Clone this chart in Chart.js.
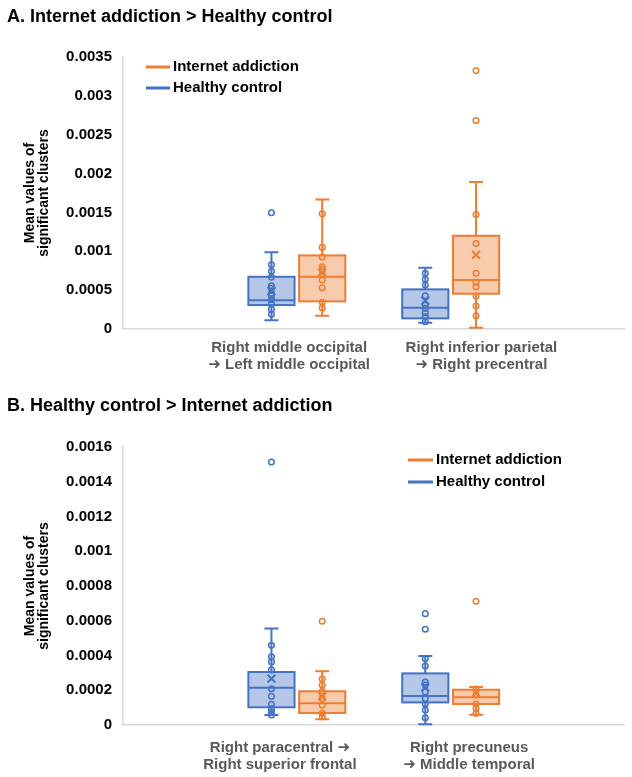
<!DOCTYPE html>
<html>
<head>
<meta charset="utf-8">
<script src="https://cdn.jsdelivr.net/npm/chart.js@4"></script>
<style>
body { margin: 0; background: #fff; }
#wrap { position: relative; width: 632px; height: 777px; }
canvas { position: absolute; left: 0; }
</style>
</head>
<body>
<div id="wrap">
  <canvas id="chartA" width="632" height="390" style="top:0"></canvas>
  <canvas id="chartB" width="632" height="387" style="top:390px"></canvas>
</div>
<script>
// ---- data: panel A (Internet addiction > Healthy control) ----
const labelsA = [['Right middle occipital', '➜ Left middle occipital'], ['Right inferior parietal', '➜ Right precentral']];
const yTicksA = [0, 0.0005, 0.001, 0.0015, 0.002, 0.0025, 0.003, 0.0035];
// box = [min, q1, median, q3, max]
const hcBoxA = [[0.000112, 0.000308, 0.000369, 0.000672, 0.000986], [0.000081, 0.000137, 0.000274, 0.00051, 0.000788]];
const iaBoxA = [[0.000171, 0.000356, 0.000672, 0.000947, 0.001667], [0.000017, 0.000454, 0.00063, 0.0012, 0.00189]];
const hcMeanA = [0.000488, 0.000364];
const iaMeanA = [0.000724, 0.000955];
const hcPointsA = [
  [0.001495, 0.000826, 0.000742, 0.000668, 0.000557, 0.000523, 0.000459, 0.000428, 0.000377, 0.000321, 0.000253, 0.000189],
  [0.000716, 0.000639, 0.000566, 0.000428, 0.000308, 0.000266, 0.00021, 0.000158, 0.000094]
];
const iaPointsA = [
  [0.001482, 0.00105, 0.000925, 0.000801, 0.000767, 0.000698, 0.00063, 0.000531, 0.000343, 0.00027],
  [0.003325, 0.002683, 0.001474, 0.001101, 0.000716, 0.0006, 0.000544, 0.000424, 0.000296, 0.000171]
];

// ---- data: panel B (Healthy control > Internet addiction) ----
const labelsB = [['Right paracentral ➜', 'Right superior frontal'], ['Right precuneus', '➜ Middle temporal']];
const yTicksB = [0, 0.0002, 0.0004, 0.0006, 0.0008, 0.001, 0.0012, 0.0014, 0.0016];
const hcBoxB = [[0.0000576, 0.000102, 0.000215, 0.000305, 0.000556], [0.000004, 0.00013, 0.000167, 0.000297, 0.000397]];
const iaBoxB = [[0.000033, 0.000069, 0.000125, 0.000194, 0.000309], [0.000059, 0.000121, 0.000159, 0.000203, 0.000219]];
const hcMeanB = [0.000267, 0.000217];
const iaMeanB = [0.000163, 0.000184];
const hcPointsB = [
  [0.001514, 0.000459, 0.000393, 0.000363, 0.000317, 0.000209, 0.000165, 0.000119, 0.000094, 0.000075, 0.0000576],
  [0.000641, 0.000551, 0.000382, 0.00034, 0.000247, 0.00023, 0.00019, 0.000152, 0.000121, 0.000086, 0.000042]
];
const iaPointsB = [
  [0.000597, 0.000265, 0.00023, 0.000194, 0.000153, 0.000113, 0.000067, 0.000048],
  [0.000712, 0.000207, 0.000173, 0.000121, 0.000096, 0.000067]
];

const seriesNames = ['Internet addiction', 'Healthy control'];

// ---- styles ----
const FONT = "'Liberation Sans', Arial, 'DejaVu Sans', sans-serif";
const HC = { line: '#4472C4', fill: '#B4C7E7', offset: -0.165 };
const IA = { line: '#ED7D31', fill: '#F8CBAD', offset: 0.165 };
const BOX_HALF = 0.15;   // in x units
const CAP_HALF = 7;      // px

const toXY = (vals, off) => vals.map((v, i) => ({ x: i + 1 + off, y: v }));
const toPoints = (groups, off) => groups.flatMap((g, i) => g.map(v => ({ x: i + 1 + off, y: v })));

const makeBoxPlugin = (series) => ({
  id: 'boxes',
  beforeDatasetsDraw(chart) {
    const { ctx, scales: { x, y } } = chart;
    const half = x.getPixelForValue(BOX_HALF) - x.getPixelForValue(0);
    ctx.save();
    series.forEach(s => {
      s.boxes.forEach((b, i) => {
        const cx = x.getPixelForValue(i + 1 + s.style.offset);
        const [mn, q1, med, q3, mx] = b.map(v => y.getPixelForValue(v));
        ctx.strokeStyle = s.style.line;
        ctx.lineWidth = 2;
        // whiskers
        ctx.beginPath();
        ctx.moveTo(cx, q3); ctx.lineTo(cx, mx);
        ctx.moveTo(cx - CAP_HALF, mx); ctx.lineTo(cx + CAP_HALF, mx);
        ctx.moveTo(cx, q1); ctx.lineTo(cx, mn);
        ctx.moveTo(cx - CAP_HALF, mn); ctx.lineTo(cx + CAP_HALF, mn);
        ctx.stroke();
        // box
        ctx.fillStyle = s.style.fill;
        ctx.fillRect(cx - half, q3, half * 2, q1 - q3);
        ctx.strokeRect(cx - half, q3, half * 2, q1 - q3);
        ctx.beginPath();
        ctx.moveTo(cx - half, med); ctx.lineTo(cx + half, med);
        ctx.stroke();
      });
    });
    ctx.restore();
  }
});

const makeLegendPlugin = (pos) => ({
  id: 'sideLegend',
  afterDraw(chart) {
    const { ctx } = chart;
    ctx.save();
    ctx.font = 'bold 15px ' + FONT;
    ctx.textBaseline = 'middle';
    [IA, HC].forEach((s, i) => {
      const y = pos.y + i * pos.gap;
      ctx.fillStyle = s.line;
      ctx.fillRect(pos.x, y - 1.5, pos.len, 3);
      ctx.fillStyle = '#000';
      ctx.fillText(seriesNames[i], pos.x + pos.len + 3, y);
    });
    ctx.restore();
  }
});

const buildChart = (id, c) => {
  const pointDs = (data, s, style) => ({
    data: data, borderColor: s.line, backgroundColor: 'rgba(255,255,255,0)',
    pointRadius: 2.8, pointBorderWidth: 1.5, pointStyle: style || 'circle', clip: false
  });
  const ds = [
    pointDs(toPoints(c.hcPoints, HC.offset), HC),
    pointDs(toPoints(c.iaPoints, IA.offset), IA),
    Object.assign(pointDs(toXY(c.hcMean, HC.offset), HC, 'crossRot'), { pointRadius: 5.5, pointBorderWidth: 2 }),
    Object.assign(pointDs(toXY(c.iaMean, IA.offset), IA, 'crossRot'), { pointRadius: 5.5, pointBorderWidth: 2 })
  ];
  return new Chart(document.getElementById(id), {
    type: 'scatter',
    data: { datasets: ds },
    plugins: [
      makeBoxPlugin([{ boxes: c.hcBox, style: HC }, { boxes: c.iaBox, style: IA }]),
      makeLegendPlugin(c.legend)
    ],
    options: {
      responsive: false,
      animation: false,
      events: [],
      layout: { padding: { left: 7, right: 2, top: 0, bottom: 0 } },
      plugins: {
        legend: { display: false },
        tooltip: { enabled: false },
        title: {
          display: true, text: c.title, align: 'start', color: '#000',
          font: { family: FONT, size: 18, weight: 'bold', lineHeight: 1.2 },
          padding: { top: c.titleTop, bottom: 57 - c.titleTop - 21.6 }
        }
      },
      scales: {
        x: {
          type: 'linear', min: -0.13, max: 3.13,
          grid: { display: false, drawTicks: false },
          border: { display: true, color: '#D9D9D9', width: 1.5 },
          afterBuildTicks: s => { s.ticks = c.labelPos.map(v => ({ value: v })); },
          afterFit: s => { s.height = c.xHeight; },
          ticks: {
            autoSkip: false, maxRotation: 0, padding: c.xPad, color: '#595959',
            font: { family: FONT, size: 15, weight: 'bold', lineHeight: 1.15 },
            callback: (v, i) => c.labels[i]
          }
        },
        y: {
          min: 0, max: c.yTicks[c.yTicks.length - 1],
          grid: { display: false, drawTicks: false },
          border: { display: true, color: '#D9D9D9', width: 1.5 },
          afterBuildTicks: s => { s.ticks = c.yTicks.map(v => ({ value: v })); },
          afterFit: s => { s.width = 116; },
          ticks: {
            padding: 11, color: '#000',
            font: { family: FONT, size: 15, weight: 'bold' },
            callback: v => String(+v.toFixed(5))
          },
          title: {
            display: true, text: ['Mean values of', 'significant clusters'], color: '#000',
            font: { family: FONT, size: 14, weight: 'bold', lineHeight: 1 },
            padding: { top: 16, bottom: 0 }
          }
        }
      }
    }
  });
};

buildChart('chartA', {
  title: 'A. Internet addiction > Healthy control', titleTop: 6,
  labels: labelsA, labelPos: [0.95, 2.2], yTicks: yTicksA,
  hcBox: hcBoxA, iaBox: iaBoxA, hcMean: hcMeanA, iaMean: iaMeanA,
  hcPoints: hcPointsA, iaPoints: iaPointsA,
  xHeight: 390 - 329, xPad: 10,
  legend: { x: 146, y: 67, gap: 21, len: 24 }
});

buildChart('chartB', {
  title: 'B. Healthy control > Internet addiction', titleTop: 5,
  labels: labelsB, labelPos: [0.89, 2.12], yTicks: yTicksB,
  hcBox: hcBoxB, iaBox: iaBoxB, hcMean: hcMeanB, iaMean: iaMeanB,
  hcPoints: hcPointsB, iaPoints: iaPointsB,
  xHeight: 387 - 335, xPad: 14,
  legend: { x: 408, y: 70, gap: 22, len: 25 }
});
</script>
</body>
</html>
